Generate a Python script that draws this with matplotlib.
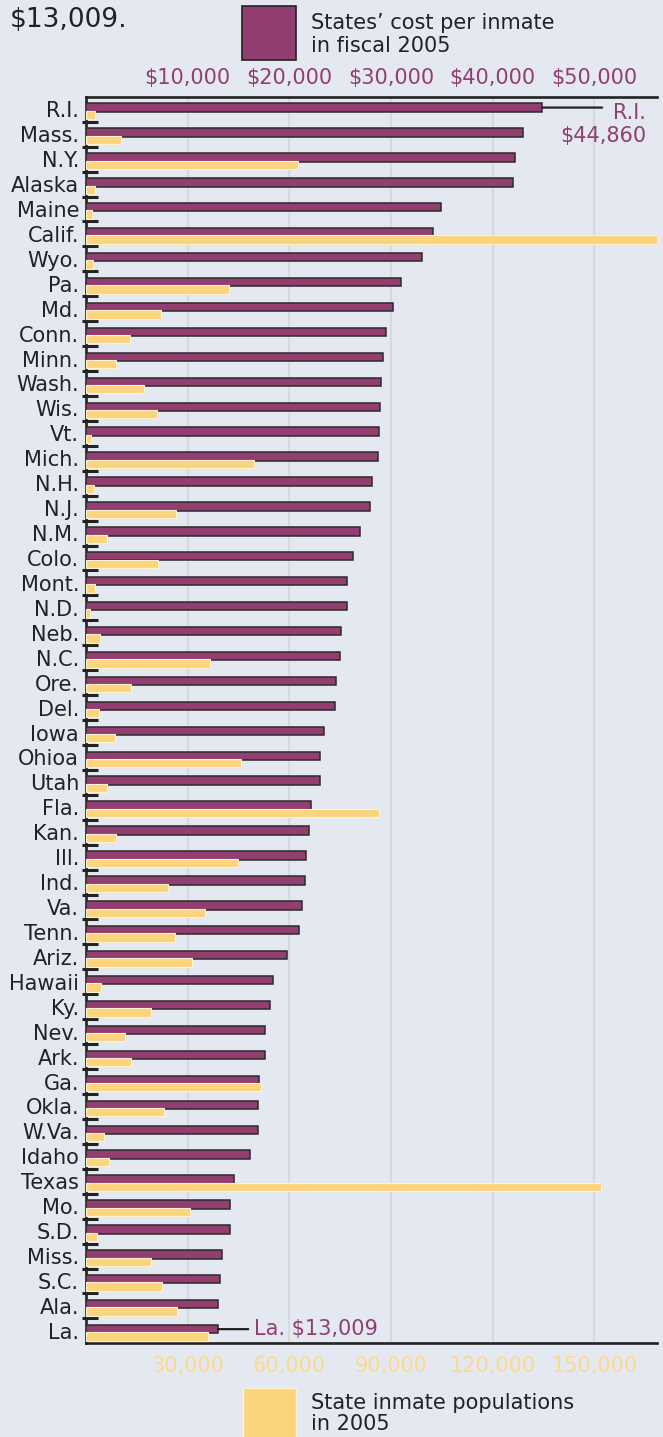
import numpy as np
import matplotlib
matplotlib.use("Agg")
import matplotlib.pyplot as plt
from matplotlib.patches import Rectangle

# Data
states = ["R.I.", "Mass.", "N.Y.", "Alaska", "Maine", "Calif.", "Wyo.", "Pa.", "Md.", "Conn.",
          "Minn.", "Wash.", "Wis.", "Vt.", "Mich.", "N.H.", "N.J.", "N.M.", "Colo.", "Mont.",
          "N.D.", "Neb.", "N.C.", "Ore.", "Del.", "Iowa", "Ohioa", "Utah", "Fla.", "Kan.",
          "Ill.", "Ind.", "Va.", "Tenn.", "Ariz.", "Hawaii", "Ky.", "Nev.", "Ark.", "Ga.",
          "Okla.", "W.Va.", "Idaho", "Texas", "Mo.", "S.D.", "Miss.", "S.C.", "Ala.", "La."]

cost_per_inmate = [44860, 42980, 42160, 42030, 34950, 34100, 33020, 30980, 30200, 29480,
                   29210, 28980, 28920, 28820, 28720, 28130, 27970, 26950, 26230, 25670,
                   25640, 25050, 24950, 24620, 24460, 23380, 22980, 22980, 22160, 21900,
                   21610, 21510, 21210, 20920, 19770, 18360, 18130, 17640, 17570, 17020,
                   16950, 16950, 16100, 14590, 14160, 14130, 13410, 13150, 12980, 13009]

inmate_population = [2650, 10230, 62650, 2650, 1770, 170000, 1970, 42300, 22030, 12980,
                     8750, 17210, 20950, 1380, 49480, 2360, 26560, 6200, 21340, 2560,
                     1180, 4230, 36490, 13280, 3840, 8560, 45640, 6100, 86360, 8950,
                     44750, 24300, 35210, 26160, 31280, 4330, 19080, 11510, 13180, 51740,
                     23110, 5210, 6690, 152070, 30590, 3250, 19080, 22330, 26850, 35900]

cost_ticks = [10000, 20000, 30000, 40000, 50000]
cost_tick_labels = ["$10,000", "$20,000", "$30,000", "$40,000", "$50,000"]
pop_ticks = [30000, 60000, 90000, 120000, 150000]
pop_tick_labels = ["30,000", "60,000", "90,000", "120,000", "150,000"]

# Colours
bg = "#e4e8f1"
purple = "#923e70"
yellow = "#fbd47e"
yellow_txt = "#fcd98c"
dark = "#222222"
grid_col = "#d6d9de"

W, H = 663, 1437
plt.rcParams["font.family"] = ["DejaVu Sans"]

fig = plt.figure(figsize=(W / 100, H / 100), dpi=100, facecolor=bg)

# axes box in pixels: left 86, right 657, top 96.8, bottom 1343.3
ax = fig.add_axes([86 / W, 1 - 1343.3 / H, 571 / W, 1246.5 / H], facecolor=bg)
ax2 = ax.twiny()

pos = np.arange(len(states))

ax.barh(pos - 0.068, cost_per_inmate, height=0.336, color=purple,
        edgecolor="#2b2b2b", linewidth=1.1, zorder=3)
ax2.barh(pos + 0.227, inmate_population, height=0.333, color=yellow,
         edgecolor="#fff3cf", linewidth=0.8, zorder=3)

ax.set_xlim(0, 56160)
ax2.set_xlim(0, 168480)
ax.set_ylim(len(states) - 0.5, -0.5)

# top axis: cost
ax.xaxis.tick_top()
ax.set_xticks(cost_ticks)
ax.set_xticklabels(cost_tick_labels)
ax.tick_params(axis="x", length=0, pad=6, labelsize=15, labelcolor=purple)
ax.grid(axis="x", color=grid_col, linewidth=1.6, zorder=0)
ax.set_axisbelow(True)

# bottom axis: population
ax2.xaxis.set_ticks_position("bottom")
ax2.xaxis.set_label_position("bottom")
ax2.set_xticks(pop_ticks)
ax2.set_xticklabels(pop_tick_labels)
ax2.tick_params(axis="x", length=0, pad=9, labelsize=15, labelcolor=yellow_txt)

# states
ax.set_yticks(pos)
ax.set_yticklabels(states)
ax.tick_params(axis="y", length=0, pad=5, labelsize=15, labelcolor=dark)

for s in ["top", "bottom", "left"]:
    ax.spines[s].set_color(dark)
    ax.spines[s].set_linewidth(1.9)
ax.spines["right"].set_visible(False)
for s in ax2.spines.values():
    s.set_visible(False)

# little separator marks between rows
ax.hlines(pos[:-1] + 0.5, -4 / 571, 12 / 571, transform=ax.get_yaxis_transform(),
          color=dark, linewidth=2.2, clip_on=False, zorder=5)

# callouts for highest and lowest
ax.annotate("", xy=(cost_per_inmate[0], pos[0] - 0.068), xytext=(60, 0),
            textcoords="offset pixels",
            arrowprops=dict(arrowstyle="-", color=dark, lw=1.6, shrinkA=0, shrinkB=0))
fig.text(646 / W, 1 - 124.5 / H, "R.I.\n$44,860", ha="right", va="center",
         multialignment="right", fontsize=15, color=purple, linespacing=1.2)

ax.annotate("", xy=(cost_per_inmate[-1], pos[-1] - 0.068), xytext=(30, 0),
            textcoords="offset pixels",
            arrowprops=dict(arrowstyle="-", color=dark, lw=1.6, shrinkA=0, shrinkB=0))
fig.text(254 / W, 1 - 1329 / H, "La. $13,009", ha="left", va="center",
         fontsize=15, color=purple)

# leftover text from above
fig.text(10 / W, 1 - 27 / H, "$13,009.", ha="left", va="baseline", fontsize=19, color=dark)

# legend boxes
fig.patches.append(Rectangle((242 / W, 1 - 60 / H), 54 / W, 54 / H, transform=fig.transFigure,
                             facecolor=purple, edgecolor=dark, linewidth=1.2))
fig.text(311 / W, 1 - 34.5 / H, "States\u2019 cost per inmate\nin fiscal 2005", ha="left",
         va="center", fontsize=15, color=dark, linespacing=1.2)

fig.patches.append(Rectangle((243 / W, 1 - 1440 / H), 53 / W, 52 / H, transform=fig.transFigure,
                             facecolor=yellow, edgecolor="#fff3cf", linewidth=1.0))
fig.text(311 / W, 1 - 1413.5 / H, "State inmate populations\nin 2005", ha="left",
         va="center", fontsize=15, color=dark, linespacing=1.1)

fig.savefig("out.png", dpi=100, facecolor=bg)
